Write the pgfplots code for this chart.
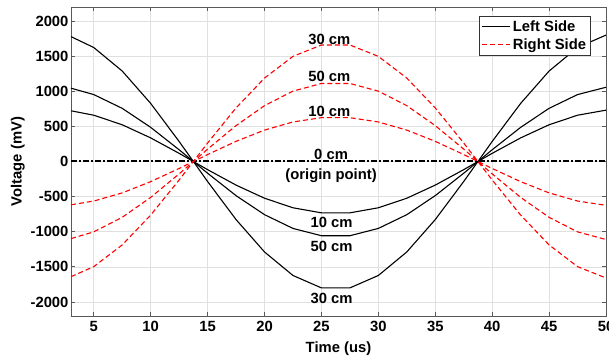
\documentclass[border=0pt]{standalone}
\usepackage{pgfplots}
\pgfplotsset{compat=1.18}
\usepackage{fontspec}
\setmainfont{Liberation Sans}

\newcommand{\lbl}{\fontsize{14.8}{17}\selectfont\bfseries}

\begin{document}
\begin{tikzpicture}
\begin{axis}[
  scale only axis,
  width=535pt, height=309pt,
  xmin=3, xmax=50, ymin=-2200, ymax=2200,
  xtick={5,10,...,50},
  ytick={-2000,-1500,...,2000},
  /pgf/number format/assume math mode=true,
  /pgf/number format/set thousands separator={},
  tick label style={font=\lbl},
  label style={font=\lbl},
  xticklabel style={yshift=-2pt},
  yticklabel style={xshift=1pt},
  xlabel={Time (us)},
  ylabel={Voltage (mV)},
  xlabel style={yshift=-3pt},
  ylabel style={yshift=-1pt},
  tick align=inside,
  major tick length=4pt,
  tick style={black!65, line width=0.7pt},
  axis line style={black!65, line width=0.8pt},
  grid=major,
  grid style={black!12, line width=0.6pt},
  legend cell align=left,
  legend style={at={(0.971,0.972)}, anchor=north east,
    draw=black!80, line width=0.8pt, font=\lbl,
    inner xsep=2pt, inner ysep=2.5pt, row sep=2pt,
    /tikz/every even column/.append style={column sep=2pt}},
  legend image code/.code={\draw[#1] (0pt,0pt) -- (28pt,0pt);},
]
% left-side sensor readings (solid)
\addplot[black, line width=1.1pt] coordinates {
 (3,1778) (5,1623) (7.5,1288) (10,827) (12.5,285) (15,-285) (17.5,-827)
 (20,-1288) (22.5,-1623) (25,-1800) (27.5,-1800) (30,-1623) (32.5,-1288)
 (35,-827) (37.5,-285) (40,285) (42.5,827) (45,1288) (47.5,1623) (50,1800)};
\addlegendentry{Left Side}
% right-side sensor readings (dashed)
\addplot[red, line width=1.1pt, dash pattern=on 5pt off 3pt] coordinates {
 (3,-1640) (5,-1497) (7.5,-1188) (10,-763) (12.5,-263) (15,263) (17.5,763)
 (20,1188) (22.5,1497) (25,1659) (27.5,1659) (30,1497) (32.5,1188)
 (35,763) (37.5,263) (40,-263) (42.5,-763) (45,-1188) (47.5,-1497) (50,-1659)};
\addlegendentry{Right Side}

\addplot[black, line width=1.1pt, forget plot] coordinates {
 (3,1044) (5,953) (7.5,757) (10,486) (12.5,167) (15,-167) (17.5,-486)
 (20,-757) (22.5,-953) (25,-1057) (27.5,-1057) (30,-953) (32.5,-757)
 (35,-486) (37.5,-167) (40,167) (42.5,486) (45,757) (47.5,953) (50,1057)};
\addplot[black, line width=1.1pt, forget plot] coordinates {
 (3,722) (5,659) (7.5,523) (10,336) (12.5,116) (15,-116) (17.5,-336)
 (20,-523) (22.5,-659) (25,-731) (27.5,-731) (30,-659) (32.5,-523)
 (35,-336) (37.5,-116) (40,116) (42.5,336) (45,523) (47.5,659) (50,731)};

% origin point (0 cm)
\addplot[black, line width=2pt, dash pattern=on 6pt off 2pt on 2pt off 2pt, forget plot]
 coordinates {(3,0) (50,0)};

\addplot[red, line width=1.1pt, dash pattern=on 5pt off 3pt, forget plot] coordinates {
 (3,-1098) (5,-1002) (7.5,-795) (10,-511) (12.5,-176) (15,176) (17.5,511)
 (20,795) (22.5,1002) (25,1111) (27.5,1111) (30,1002) (32.5,795)
 (35,511) (37.5,176) (40,-176) (42.5,-511) (45,-795) (47.5,-1002) (50,-1111)};
\addplot[red, line width=1.1pt, dash pattern=on 5pt off 3pt, forget plot] coordinates {
 (3,-617) (5,-563) (7.5,-447) (10,-287) (12.5,-99) (15,99) (17.5,287)
 (20,447) (22.5,563) (25,624) (27.5,624) (30,563) (32.5,447)
 (35,287) (37.5,99) (40,-99) (42.5,-287) (45,-447) (47.5,-563) (50,-624)};

% distance labels
\node[font=\lbl] at (axis cs:25.7,1736) {30 cm};
\node[font=\lbl] at (axis cs:25.7,1213) {50 cm};
\node[font=\lbl] at (axis cs:25.7,713) {10 cm};
\node[font=\lbl] at (axis cs:25.85,103) {0 cm};
\node[font=\lbl] at (axis cs:25.85,-200) {(origin point)};
\node[font=\lbl] at (axis cs:25.9,-872) {10 cm};
\node[font=\lbl] at (axis cs:25.9,-1213) {50 cm};
\node[font=\lbl] at (axis cs:25.9,-1954) {30 cm};

\coordinate (bl) at (rel axis cs:0,0);
\coordinate (tr) at (rel axis cs:1,1);
\end{axis}
\pgfresetboundingbox
\path[use as bounding box] ([xshift=-71pt,yshift=-42pt]bl) rectangle ([xshift=3pt,yshift=7pt]tr);
\end{tikzpicture}
\end{document}
